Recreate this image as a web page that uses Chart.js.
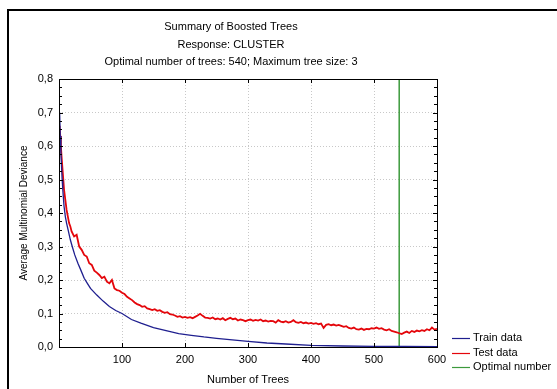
<!DOCTYPE html>
<html><head><meta charset="utf-8">
<script src="https://cdn.jsdelivr.net/npm/chart.js@4.4.1/dist/chart.umd.min.js"></script>
<style>html,body{margin:0;padding:0;background:#fff}#wrap{width:557px;height:389px;position:relative}</style>
</head><body><div id="wrap"><canvas id="c" width="557" height="389"></canvas></div>
<script>
const titleLines = ['Summary of Boosted Trees', 'Response: CLUSTER', 'Optimal number of trees: 540; Maximum tree size: 3'];
const seriesLabels = ['Train data', 'Test data', 'Optimal number'];
const xTitle = 'Number of Trees';
const yTitle = 'Average Multinomial Deviance';
const xTickLabels = ['', '100', '200', '300', '400', '500', '600'];
const yTickLabels = ['0,0', '0,1', '0,2', '0,3', '0,4', '0,5', '0,6', '0,7', '0,8'];

const trainTrees = [1,2,3,4,5,6,8,10,12,15,18,21,25,30,35,40,45,50,60,70,80,90,100,115,130,150,170,190,210,230,250,275,300,330,360,400,450,500,550,600];
const trainDeviance = [0.70,0.63,0.58,0.54,0.50,0.47,0.42,0.39,0.37,0.345,0.32,0.30,0.275,0.25,0.228,0.205,0.19,0.175,0.155,0.137,0.121,0.109,0.100,0.082,0.071,0.058,0.049,0.040,0.035,0.030,0.026,0.021,0.017,0.012,0.009,0.005,0.003,0.002,0.0015,0.001];

const testTrees = [1,2,3,4,6,8,10,12,14,16,18,20,
 24,28,32,36,40,44,48,52,56,60,
 64,68,72,76,80,84,88,92,96,100,
 104,108,112,116,120,124,128,132,136,140,
 144,148,152,156,160,164,168,172,176,180,
 184,188,192,196,200,204,208,212,216,220,
 224,228,232,236,240,244,248,252,256,260,
 264,268,272,276,280,284,288,292,296,300,
 304,308,312,316,320,324,328,332,336,340,
 344,348,352,356,360,364,368,372,376,380,
 384,388,392,396,400,404,408,412,416,420,
 424,428,432,436,440,444,448,452,456,460,
 464,468,472,476,480,484,488,492,496,500,
 504,508,512,516,520,524,528,532,536,540,
 544,548,552,556,560,564,568,572,576,580,
 584,588,592,596,600];
const testDeviance = [0.66,0.63,0.60,0.57,0.52,0.47,0.44,0.41,0.39,0.37,0.36,0.345,
 0.33,0.335,0.30,0.29,0.275,0.27,0.25,0.245,0.228,0.222,
 0.215,0.206,0.21,0.195,0.19,0.2,0.175,0.17,0.168,0.162,
 0.158,0.15,0.145,0.14,0.133,0.128,0.125,0.12,0.122,0.115,
 0.113,0.11,0.113,0.108,0.11,0.105,0.102,0.104,0.098,0.097,
 0.094,0.09,0.092,0.088,0.09,0.087,0.089,0.086,0.09,0.094,
 0.099,0.093,0.088,0.087,0.085,0.088,0.083,0.085,0.082,0.086,
 0.08,0.084,0.087,0.083,0.085,0.079,0.082,0.08,0.077,0.08,
 0.082,0.078,0.081,0.079,0.082,0.077,0.079,0.076,0.078,0.077,
 0.073,0.08,0.076,0.074,0.077,0.073,0.075,0.08,0.074,0.072,
 0.075,0.071,0.073,0.07,0.072,0.069,0.071,0.068,0.07,0.057,
 0.066,0.068,0.065,0.067,0.064,0.066,0.063,0.06,0.062,0.057,
 0.055,0.058,0.053,0.052,0.055,0.051,0.054,0.053,0.056,0.055,
 0.058,0.054,0.056,0.052,0.05,0.053,0.048,0.046,0.044,0.041,
 0.039,0.043,0.046,0.042,0.048,0.045,0.049,0.047,0.05,0.048,
 0.053,0.05,0.058,0.052,0.054];

const optimalTrees = [540, 540];
const optimalDeviance = [0, 0.8];

const FONT = 'Liberation Sans, Arial, sans-serif';
const colors = ['#1f1f8f', '#e4060b', '#3c9a3c'];

function pts(xs, ys) { return xs.map((x, i) => ({x: x, y: ys[i]})); }

const decor = {
  id: 'decor',
  afterDraw(chart) {
    const ctx = chart.ctx;
    const a = chart.chartArea;
    const xs = chart.scales.x, ys = chart.scales.y;
    ctx.save();
    ctx.strokeStyle = '#000';
    ctx.lineWidth = 1;
    ctx.strokeRect(Math.round(a.left) + 0.5, Math.round(a.top) + 0.5, Math.round(a.right - a.left), Math.round(a.bottom - a.top));
    ctx.beginPath();
    for (let k = 0; k <= 32; k++) {
      const y = Math.round(ys.getPixelForValue(k * 0.025)) + 0.5;
      const len = (k % 4 === 0) ? 4 : 3;
      ctx.moveTo(a.left, y); ctx.lineTo(a.left + len, y);
      ctx.moveTo(a.right, y); ctx.lineTo(a.right - len, y);
    }
    for (let k = 1; k < 6; k++) {
      const x = Math.round(xs.getPixelForValue(k * 100)) + 0.5;
      ctx.moveTo(x, a.bottom); ctx.lineTo(x, a.bottom - 4);
      ctx.moveTo(x, a.top); ctx.lineTo(x, a.top + 4);
    }
    ctx.stroke();
    ctx.fillStyle = '#000';
    ctx.fillRect(7, 9, 2, 380);
    ctx.fillRect(7, 9, 550, 2);
    ctx.font = '11px ' + FONT;
    ctx.textAlign = 'center';
    ctx.textBaseline = 'middle';
    const ty = [27, 44.5, 62];
    titleLines.forEach((t, i) => ctx.fillText(t, 231, ty[i]));
    ctx.textAlign = 'left';
    const ly = [338, 353, 367];
    chart.data.datasets.forEach((d, i) => {
      ctx.strokeStyle = d.borderColor;
      ctx.lineWidth = 1.2;
      ctx.beginPath();
      ctx.moveTo(452, ly[i] + 0.5); ctx.lineTo(470, ly[i] + 0.5);
      ctx.stroke();
      ctx.fillStyle = '#000';
      ctx.fillText(d.label, 473, ly[i]);
    });
    ctx.restore();
  }
};

new Chart(document.getElementById('c').getContext('2d'), {
  type: 'line',
  data: {
    datasets: [
      {label: seriesLabels[0], data: pts(trainTrees, trainDeviance), borderColor: colors[0], borderWidth: 1.3, pointRadius: 0, tension: 0, fill: false},
      {label: seriesLabels[1], data: pts(testTrees, testDeviance), borderColor: colors[1], borderWidth: 1.8, pointRadius: 0, tension: 0, fill: false},
      {label: seriesLabels[2], data: pts(optimalTrees, optimalDeviance), borderColor: colors[2], borderWidth: 1.5, pointRadius: 0, tension: 0, fill: false}
    ]
  },
  options: {
    responsive: false,
    animation: false,
    devicePixelRatio: 1,
    layout: {padding: {left: 0, top: 79, right: 120, bottom: 0}},
    plugins: {legend: {display: false}, title: {display: false}, tooltip: {enabled: false}},
    scales: {
      x: {
        type: 'linear', min: 0, max: 600,
        ticks: {stepSize: 100, autoSkip: false, maxRotation: 0, padding: 6, color: '#000', font: {family: FONT, size: 11},
          callback: (v, i) => xTickLabels[i]},
        grid: {color: '#c8c8c8', lineWidth: 1, drawTicks: false},
        border: {display: false, dash: [1, 2]},
        title: {display: true, text: xTitle, color: '#000', font: {family: FONT, size: 11}, padding: {top: 0, bottom: 2}},
        afterFit: s => { s.height = 42; }
      },
      y: {
        type: 'linear', min: 0, max: 0.8,
        ticks: {stepSize: 0.1, padding: 6, color: '#000', font: {family: FONT, size: 11},
          callback: (v, i) => yTickLabels[i]},
        grid: {color: '#c8c8c8', lineWidth: 1, drawTicks: false},
        border: {display: false, dash: [1, 2]},
        title: {display: true, text: yTitle, color: '#000', font: {family: FONT, size: 10}, padding: {top: 18, bottom: 0}},
        afterFit: s => { s.width = 59; }
      }
    }
  },
  plugins: [decor]
});
</script>
</body></html>
